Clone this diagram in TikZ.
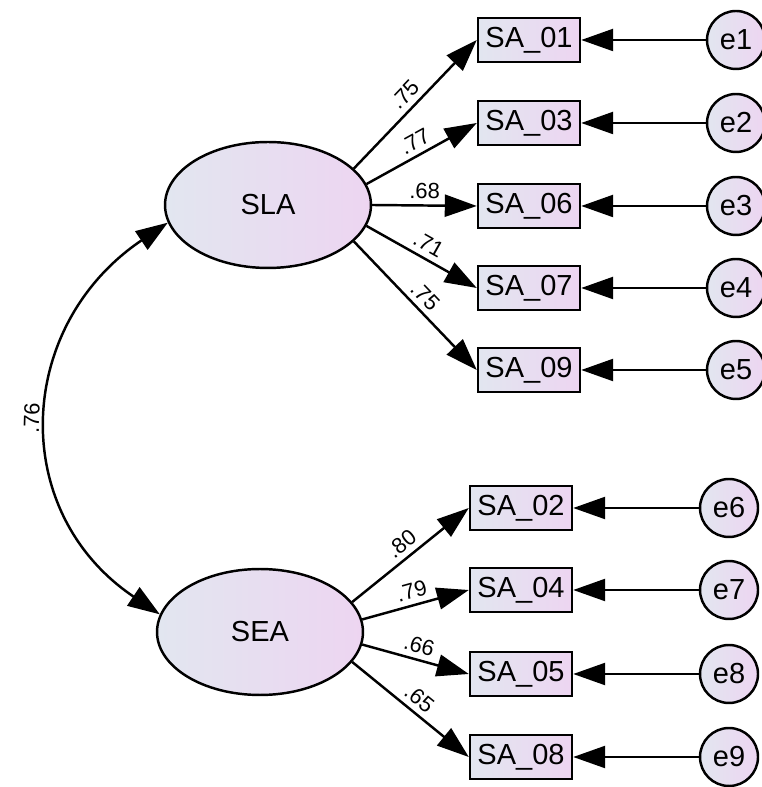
\documentclass[tikz,border=0pt]{standalone}
\usepackage{fontspec}
\setmainfont{Liberation Sans}
\usetikzlibrary{shapes.geometric, arrows.meta}

\definecolor{shadeleft}{RGB}{226,230,240}
\definecolor{shaderight}{RGB}{237,213,241}

\tikzset{
	latent/.style = {ellipse, draw, line width = 1.4pt, left color = shadeleft, right color = shaderight, minimum width = 4.12cm, minimum height = 2.52cm, inner sep = 0pt, font = \fontsize{16.5}{18}\selectfont},
	observed/.style = {rectangle, draw, line width = 1.4pt, left color = shadeleft, right color = shaderight, minimum width = 2.04cm, minimum height = 0.88cm, inner sep = 0pt, font = \fontsize{16.5}{18}\selectfont},
	errterm/.style = {circle, draw, line width = 1.4pt, left color = shadeleft, right color = shaderight, minimum size = 1.16cm, inner sep = 0pt, font = \fontsize{16.5}{18}\selectfont},
	loading/.style = {-{Triangle[length = 0.64cm, width = 0.44cm]}, line width = 1.4pt},
	weight/.style = {midway, above, sloped, inner sep = 3pt, font = \fontsize{12.5}{14}\selectfont}
}

\begin{document}
\begin{tikzpicture}[x = 0.02cm, y = 0.02cm]
	\useasboundingbox (0,0) rectangle (761,787);
	
	% latent factors
	\node [latent] (SLA) at (268,582) {SLA};
	\node [latent] (SEA) at (260,155) {SEA};
	
	% indicators of SLA
	\node [observed] (SA01) at (529,747) {SA\_01};
	\node [observed] (SA03) at (529,664) {SA\_03};
	\node [observed] (SA06) at (529,581) {SA\_06};
	\node [observed] (SA07) at (529,499) {SA\_07};
	\node [observed] (SA09) at (529,417) {SA\_09};
	
	% indicators of SEA
	\node [observed] (SA02) at (521,279) {SA\_02};
	\node [observed] (SA04) at (521,197) {SA\_04};
	\node [observed] (SA05) at (521,113) {SA\_05};
	\node [observed] (SA08) at (521,30) {SA\_08};
	
	% error terms
	\node [errterm] (e1) at (736,747) {e1};
	\node [errterm] (e2) at (736,664) {e2};
	\node [errterm] (e3) at (736,581) {e3};
	\node [errterm] (e4) at (736,499) {e4};
	\node [errterm] (e5) at (736,417) {e5};
	\node [errterm] (e6) at (729,279) {e6};
	\node [errterm] (e7) at (729,197) {e7};
	\node [errterm] (e8) at (729,113) {e8};
	\node [errterm] (e9) at (729,30) {e9};
	
	% loadings
	\draw [loading] (SLA.23) -- (SA01.west) node [weight] {.75};
	\draw [loading] (SLA.12) -- (SA03.west) node [weight] {.77};
	\draw [loading] (SLA.0) -- (SA06.west) node [weight] {.68};
	\draw [loading] (SLA.-12) -- (SA07.west) node [weight] {.71};
	\draw [loading] (SLA.-23) -- (SA09.west) node [weight] {.75};
	
	\draw [loading] (SEA.18) -- (SA02.west) node [weight] {.80};
	\draw [loading] (SEA.7) -- (SA04.west) node [weight] {.79};
	\draw [loading] (SEA.-7) -- (SA05.west) node [weight] {.66};
	\draw [loading] (SEA.-18) -- (SA08.west) node [weight] {.65};
	
	% residuals
	\draw [loading] (e1) -- (SA01);
	\draw [loading] (e2) -- (SA03);
	\draw [loading] (e3) -- (SA06);
	\draw [loading] (e4) -- (SA07);
	\draw [loading] (e5) -- (SA09);
	\draw [loading] (e6) -- (SA02);
	\draw [loading] (e7) -- (SA04);
	\draw [loading] (e8) -- (SA05);
	\draw [loading] (e9) -- (SA08);
	
	% covariance
	\draw [{Triangle[length = 0.64cm, width = 0.44cm]}-{Triangle[length = 0.64cm, width = 0.44cm]}, line width = 1.4pt] (SEA.170) to [out = 146, in = 214, looseness = 1.2] node [weight, inner sep = 5pt] {.76} (SLA.190);
\end{tikzpicture}
\end{document}
